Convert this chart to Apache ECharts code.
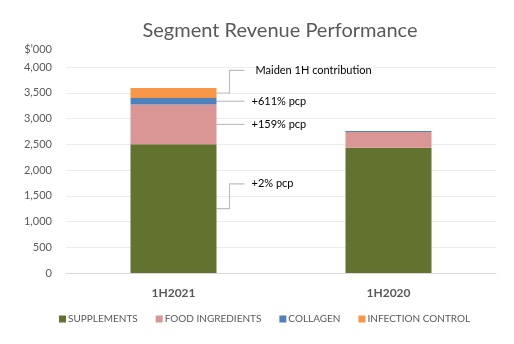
<!DOCTYPE html>
<html>
<head>
<meta charset="utf-8">
<script src="https://cdn.jsdelivr.net/npm/echarts@6/dist/echarts.min.js"></script>
<style>
  html, body { margin: 0; padding: 0; background: #fff; }
  #chart { width: 514px; height: 344px; }
</style>
</head>
<body>
<div id="chart"></div>
<script>
// Half-year segment revenue, $'000
const categories = ['1H2021', '1H2020'];
const supplements = [2500, 2430];
const foodIngredients = [770, 310];
const collagen = [130, 15];
const infectionControl = [190, 0];
const seriesNames = ['SUPPLEMENTS', 'FOOD INGREDIENTS', 'COLLAGEN', 'INFECTION CONTROL'];
const yMax = 4000;
const yStep = 500;

// Callouts for the 1H2021 bar, one per segment (bottom to top)
const callouts = ['+2% pcp', '+159% pcp', '+611% pcp', 'Maiden 1H contribution'];

const FONT = 'Lato, "Open Sans", sans-serif';
const GREY = '#595959';
const colors = ['#61732F', '#D99694', '#4F81BD', '#F79646'];

const chart = echarts.init(document.getElementById('chart'));
const stacks = [supplements, foodIngredients, collagen, infectionControl];

chart.setOption({
  animation: false,
  textStyle: { fontFamily: FONT },
  title: {
    text: 'Segment Revenue Performance',
    left: 275,
    textAlign: 'center',
    top: 16,
    textStyle: { fontFamily: FONT, fontSize: 20, fontWeight: 'normal', color: GREY }
  },
  grid: { left: 66, right: 18, top: 67, bottom: 71 },
  legend: {
    bottom: 20,
    left: 59,
    padding: 0,
    itemWidth: 7,
    itemHeight: 7,
    itemGap: 18,
    icon: 'rect',
    textStyle: { fontFamily: FONT, fontSize: 10, color: GREY, padding: [0, 0, 0, -3] },
    data: seriesNames
  },
  xAxis: {
    type: 'category',
    data: categories,
    axisTick: { show: false },
    axisLine: { lineStyle: { color: '#d9d9d9', width: 1 } },
    axisLabel: { margin: 14, fontFamily: FONT, fontSize: 12, fontWeight: 'bold', color: GREY }
  },
  yAxis: {
    type: 'value',
    min: 0,
    max: yMax,
    interval: yStep,
    name: "$\u2019000",
    nameLocation: 'end',
    nameGap: 12,
    nameTextStyle: { fontFamily: FONT, fontSize: 11, color: GREY, align: 'right', padding: [0, 14, 0, 0] },
    axisLine: { show: false },
    axisTick: { show: false },
    splitLine: { lineStyle: { color: '#ececec', width: 1 } },
    axisLabel: {
      margin: 14,
      fontFamily: FONT,
      fontSize: 11,
      color: GREY,
      formatter: v => v.toLocaleString('en-US')
    }
  },
  series: stacks.map((arr, i) => ({
    name: seriesNames[i],
    type: 'bar',
    stack: 'rev',
    barWidth: '40%',
    itemStyle: { color: colors[i] },
    data: arr
  }))
});

// Leader lines and callout text beside the first bar
function drawCallouts() {
  const c0 = chart.convertToPixel({ xAxisIndex: 0 }, categories[0]);
  const c1 = chart.convertToPixel({ xAxisIndex: 0 }, categories[1]);
  const barRight = c0 + (c1 - c0) * 0.4 / 2;
  const elbowX = barRight + 13;
  const lineEnd = barRight + 28;
  const textX = [barRight + 35, barRight + 35, barRight + 35, barRight + 39];

  // text levels (in axis units) for each callout
  const textLevels = [1730, 2915, 3360, 3935];

  const elements = [];
  let base = 0;
  stacks.forEach((arr, i) => {
    const v = arr[0];
    const mid = base + v / 2;
    base += v;
    const yMid = chart.convertToPixel({ yAxisIndex: 0 }, mid);
    const yText = chart.convertToPixel({ yAxisIndex: 0 }, textLevels[i]);
    let pts;
    if (Math.abs(yMid - yText) < 4) {
      pts = [[barRight, yMid], [lineEnd, yMid]];
    } else {
      pts = [[barRight, yMid], [elbowX, yMid], [elbowX, yText], [lineEnd, yText]];
    }
    const yLabel = pts[pts.length - 1][1];
    elements.push({
      type: 'polyline',
      shape: { points: pts },
      style: { stroke: '#bfbfbf', lineWidth: 1.2, fill: null },
      silent: true
    });
    elements.push({
      type: 'text',
      x: textX[i],
      y: yLabel,
      style: {
        text: callouts[i],
        fontFamily: FONT,
        fontSize: 11,
        fill: '#000',
        textVerticalAlign: 'middle',
        verticalAlign: 'middle'
      },
      silent: true
    });
  });
  chart.setOption({ graphic: { elements } });
}
drawCallouts();
</script>
</body>
</html>
